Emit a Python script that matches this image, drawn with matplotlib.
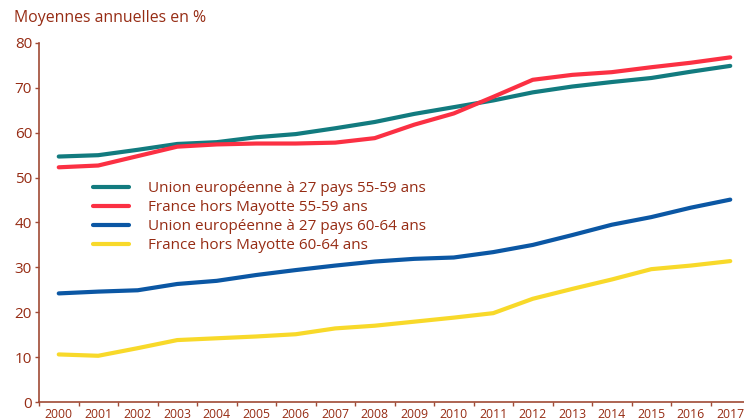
import matplotlib
matplotlib.use("Agg")
import matplotlib.pyplot as plt

years = [str(y) for y in range(2000, 2018)]
ue_55_59 = [54.7, 55.0, 56.2, 57.5, 57.9, 59.0, 59.7, 61.0, 62.4, 64.2, 65.7, 67.2, 69.0, 70.3, 71.3, 72.2, 73.6, 74.9]
fr_55_59 = [52.3, 52.7, 54.8, 56.9, 57.4, 57.6, 57.6, 57.8, 58.8, 61.8, 64.3, 68.0, 71.8, 72.9, 73.5, 74.6, 75.6, 76.8]
ue_60_64 = [24.2, 24.6, 24.9, 26.3, 27.0, 28.3, 29.4, 30.4, 31.3, 31.9, 32.2, 33.4, 35.0, 37.2, 39.5, 41.2, 43.3, 45.1]
fr_60_64 = [10.6, 10.3, 12.0, 13.8, 14.2, 14.6, 15.1, 16.4, 17.0, 17.9, 18.8, 19.8, 23.0, 25.2, 27.3, 29.6, 30.4, 31.4]
labels = ["Union européenne à 27 pays 55-59 ans",
          "France hors Mayotte 55-59 ans",
          "Union européenne à 27 pays 60-64 ans",
          "France hors Mayotte 60-64 ans"]
series = [ue_55_59, fr_55_59, ue_60_64, fr_60_64]
colors = ["#127b7f", "#fb3043", "#0b57a4", "#f8d92a"]
yticks = [0, 10, 20, 30, 40, 50, 60, 70, 80]

txt = "#962c14"
axc = "#a04a35"
plt.rcParams['font.family'] = ['Open Sans', 'DejaVu Sans']

W, H = 744, 419
fig = plt.figure(figsize=(W/100, H/100), dpi=100)
left, right, top, bottom = 39, 750, 43, 402
ax = fig.add_axes([left/W, 1-bottom/H, (right-left)/W, (bottom-top)/H])

x = list(range(len(years)))
for s, c, l in zip(series, colors, labels):
    ax.plot(x, s, color=c, lw=3.0, label=l, solid_capstyle='round', solid_joinstyle='round')

ax.set_xlim(-0.5, len(years)-0.5)
ax.set_ylim(0, 80)
ax.set_yticks(yticks)
ax.set_yticklabels([str(v) for v in yticks], fontsize=11, color=txt)
ax.set_xticks(x)
ax.set_xticklabels(years, fontsize=8.8, color=txt)
ax.set_xticks([i - 0.5 for i in range(len(years)+1)], minor=True)
ax.tick_params(axis='x', which='major', length=0, pad=4)
ax.tick_params(axis='x', which='minor', length=3, color=axc, width=1)
ax.tick_params(axis='y', length=3, color=axc, width=1, pad=2)
for sp in ['top', 'right']:
    ax.spines[sp].set_visible(False)
for sp in ['left', 'bottom']:
    ax.spines[sp].set_color(axc)
    ax.spines[sp].set_linewidth(1.2)

leg = ax.legend(loc='upper left', bbox_to_anchor=((93-left)/(right-left), (bottom-181)/(bottom-top)),
                frameon=False, fontsize=11, handlelength=2.35, handletextpad=1.25,
                labelspacing=0.27, borderpad=0, borderaxespad=0)
for t in leg.get_texts():
    t.set_color(txt)

fig.text(14/W, 1-18/H, "Moyennes annuelles en %", fontsize=11.4, color=txt, va='center', ha='left')

fig.savefig("out.png", dpi=100)
